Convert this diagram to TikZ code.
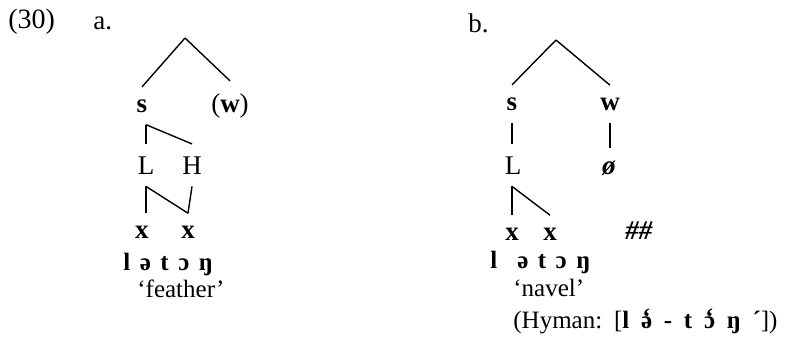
\documentclass[tikz,border=0pt]{standalone}
\usepackage{fontspec}
\setmainfont{Liberation Serif}
\newcommand{\segsp}{\hspace{.38em}}
\newcommand{\hysp}{\hspace{.47em}}
\newcommand{\lowtone}[1]{\leavevmode\ooalign{#1\cr\hidewidth\raisebox{.2ex}{\char"60}\hidewidth\cr}}
\begin{document}
\begin{tikzpicture}[x=0.5pt, y=-0.5pt, font=\fontsize{12.5}{14}\selectfont]
    % styles
    \tikzstyle{seg} = [inner xsep=1pt, inner ysep=6pt, anchor=base, font=\fontsize{13.5}{15}\selectfont]
    \tikzstyle{lbl} = [inner sep=0pt, anchor=base west]
    \tikzstyle{assoc} = [line width=0.7pt]
    \useasboundingbox (0,0) rectangle (789,343);

    \node[lbl, font=\fontsize{14}{16}\selectfont] (num) at (8,28) {(30)};

    % ================= (a) feather =================
    \node[lbl, font=\fontsize{13.5}{16}\selectfont] (laba) at (93,29) {a.};
    \coordinate (topa) at (185,38);
    \node[seg] (sa) at (142,112) {\textbf{s}};
    \node[seg] (wa) at (230,112) {(\textbf{w})};
    \node[seg] (La) at (146,174) {L};
    \node[seg] (Ha) at (192,174) {H};
    \node[seg] (xa1) at (142,238) {\textbf{x}};
    \node[seg] (xa2) at (188,238) {\textbf{x}};
    \node[lbl] (forma) at (123,270) {\textbf{l\segsp ə\segsp t\segsp ɔ\segsp ŋ}};
    \node[lbl] (glossa) at (137,297) {‘feather’};

    \draw[assoc] (topa) -- (sa.north);
    \draw[assoc] (topa) -- (wa.north);
    \draw[assoc] (La.north |- sa.south) -- (La.north);
    \draw[assoc] (La.north |- sa.south) -- (Ha.north);
    \draw[assoc] (La.south) -- (La.south |- xa1.north);
    \draw[assoc] (La.south) -- (xa2.north);
    \draw[assoc] (Ha.south) -- (xa2.north);

    % ================= (b) navel =================
    \node[lbl, font=\fontsize{13.5}{16}\selectfont] (labb) at (468,32) {b.};
    \coordinate (topb) at (556,40);
    \node[seg] (sb) at (512,110) {\textbf{s}};
    \node[seg] (wb) at (610,110) {\textbf{w}};
    \node[seg] (Lb) at (513,174) {L};
    \node[seg] (zb) at (609,174) {\textbf{\textit{ø}}};
    \node[seg] (xb1) at (512,240) {\textbf{x}};
    \node[seg] (xb2) at (550,240) {\textbf{x}};
    \node[seg] (bound) at (639,239) {\textbf{\textit{\#\#}}};
    \node[lbl] (formb) at (490,268) {\textbf{l\segsp\, ə\segsp t\segsp ɔ\segsp ŋ}};
    \node[lbl] (glossb) at (513,296) {‘navel’};
    \node[lbl] (hyman) at (513,328)
        {(Hyman:\hysp[\textbf{l\hysp\lowtone{ə}\hysp-\hysp t\hysp\lowtone{ɔ}\hysp ŋ\hysp´}])};

    \draw[assoc] (topb) -- (sb.north);
    \draw[assoc] (topb) -- (wb.north);
    \draw[assoc] (sb.south) -- (sb.south |- Lb.north);
    \draw[assoc] (wb.south) -- (wb.south |- zb.north);
    \draw[assoc] (sb.south |- Lb.south) -- (sb.south |- xb1.north);
    \draw[assoc] (sb.south |- Lb.south) -- (xb2.north);
\end{tikzpicture}
\end{document}
